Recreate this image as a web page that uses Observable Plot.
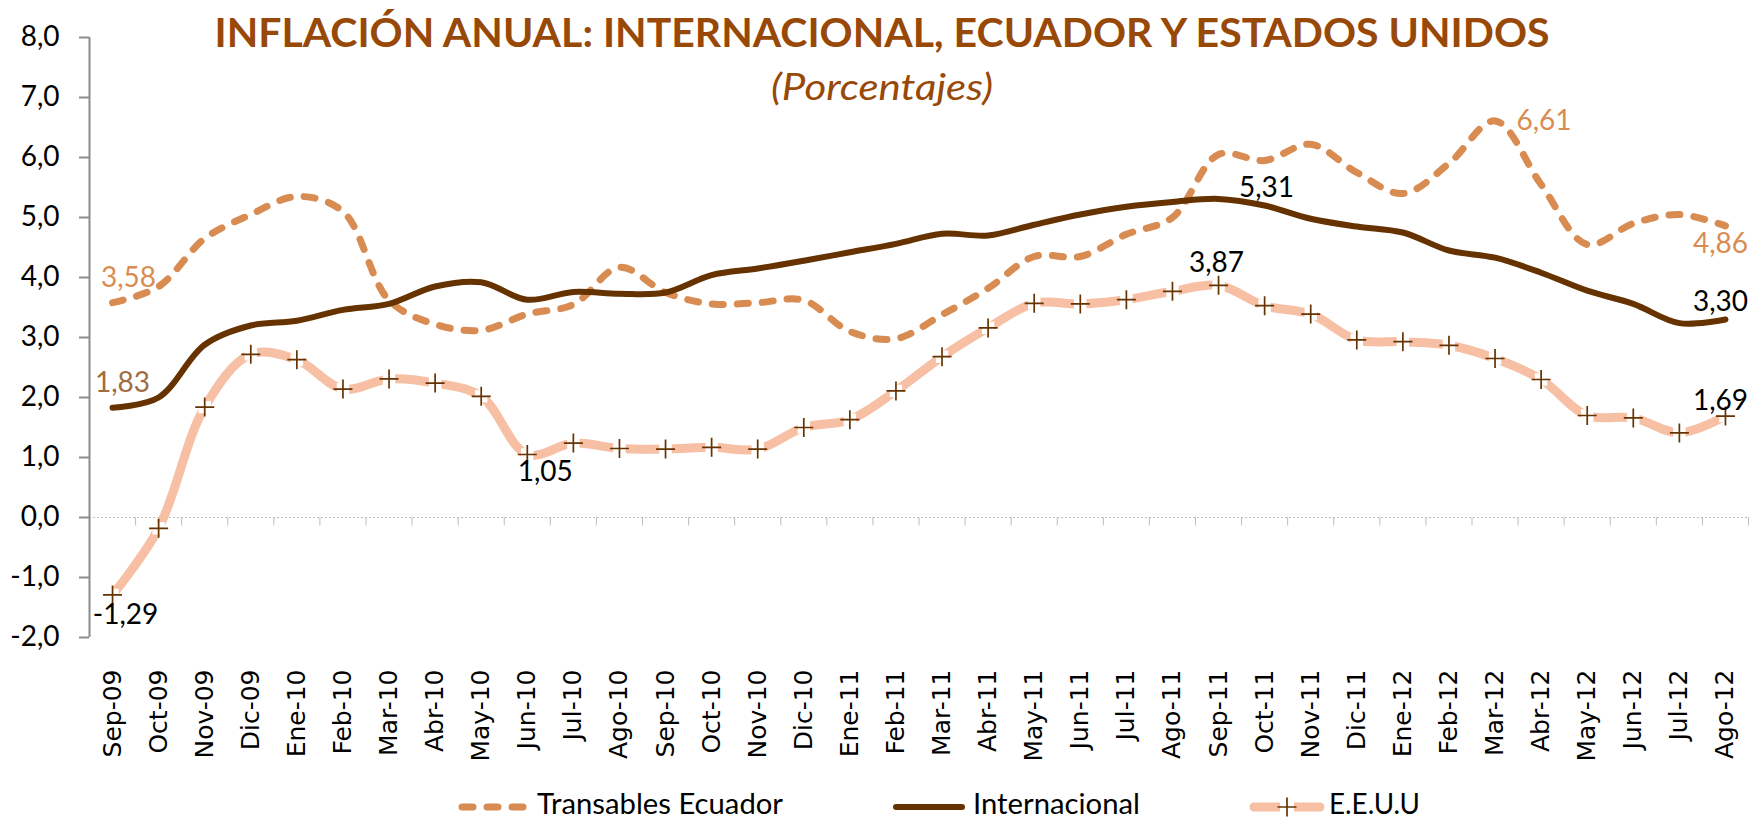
<!DOCTYPE html>
<html>
<head>
<meta charset="utf-8">
<script src="https://cdn.jsdelivr.net/npm/d3@7"></script>
<script src="https://cdn.jsdelivr.net/npm/@observablehq/plot@0.6"></script>
<style>
  html, body { margin: 0; padding: 0; background: white; }
  #chart svg { display: block; }
  g[aria-label="x-axis tick label"] text { font-family: "DejaVu Sans", Verdana, sans-serif; }
</style>
</head>
<body>
<div id="chart"></div>
<script>
const title = "INFLACIÓN ANUAL: INTERNACIONAL, ECUADOR Y ESTADOS UNIDOS";
const subtitle = "(Porcentajes)";

const categories = ["Sep-09","Oct-09","Nov-09","Dic-09","Ene-10","Feb-10","Mar-10","Abr-10","May-10","Jun-10","Jul-10","Ago-10","Sep-10","Oct-10","Nov-10","Dic-10","Ene-11","Feb-11","Mar-11","Abr-11","May-11","Jun-11","Jul-11","Ago-11","Sep-11","Oct-11","Nov-11","Dic-11","Ene-12","Feb-12","Mar-12","Abr-12","May-12","Jun-12","Jul-12","Ago-12"];

const transables = [3.58,3.85,4.65,5.05,5.35,5.10,3.62,3.22,3.12,3.39,3.55,4.17,3.75,3.56,3.58,3.62,3.10,2.98,3.38,3.82,4.35,4.35,4.72,5.00,6.05,5.95,6.22,5.75,5.40,5.90,6.61,5.55,4.55,4.90,5.05,4.86];

const internacional = [1.83,2.00,2.88,3.20,3.28,3.46,3.56,3.85,3.92,3.63,3.76,3.73,3.75,4.04,4.15,4.28,4.42,4.56,4.73,4.70,4.88,5.05,5.18,5.26,5.31,5.20,4.98,4.85,4.75,4.45,4.33,4.08,3.78,3.56,3.24,3.30];

const eeuu = [-1.29,-0.18,1.84,2.72,2.63,2.14,2.31,2.24,2.02,1.05,1.24,1.15,1.14,1.17,1.14,1.50,1.63,2.11,2.68,3.16,3.57,3.56,3.63,3.77,3.87,3.53,3.39,2.96,2.93,2.87,2.65,2.30,1.70,1.66,1.41,1.69];

const yTicks = [-2,-1,0,1,2,3,4,5,6,7,8];
const seriesNames = ["Transables Ecuador", "Internacional", "E.E.U.U"];

const C_TRANS = "#D98C52";
const C_INTL = "#663300";
const C_US = "#F7BFA4";
const C_TITLE = "#984807";

const idx = d3.range(categories.length);
const rows = vals => idx.map(i => ({i, v: vals[i]}));
const fmt = v => v.toFixed(2).replace(".", ",");

const plusSymbol = {
  draw(ctx, size) {
    const r = Math.sqrt(size / Math.PI);
    ctx.moveTo(-r, 0); ctx.lineTo(r, 0);
    ctx.moveTo(0, -r); ctx.lineTo(0, r);
  }
};

const label = (vals, i, color, dx, dy) =>
  Plot.text([i], {x: d => d, y: d => vals[d], text: d => fmt(vals[d]), fill: color, dx, dy,
    fontSize: 28, fontFamily: "Lato"});

const W = 1750, H = 822;
const plot = Plot.plot({
  width: W, height: H,
  marginTop: 37, marginBottom: 185, marginLeft: 89, marginRight: 2,
  x: {domain: [-0.5, categories.length - 0.5], axis: null},
  y: {domain: [-2, 8], axis: null},
  style: {background: "white", fontFamily: "Lato", color: "black"},
  marks: [
    Plot.ruleY([0], {stroke: "#bdbdbd", strokeWidth: 1, strokeDasharray: "2,2"}),
    Plot.ruleX(idx.map(i => i + 0.5), {y1: 0, y2: -0.14, stroke: "#bdbdbd", strokeWidth: 1}),
    Plot.ruleX([-0.5], {y1: -2, y2: 8, stroke: "#8c8c8c", strokeWidth: 2}),
    Plot.axisY({ticks: yTicks, label: null, tickSize: 10, tickPadding: 20, tickFormat: d => d.toFixed(1).replace(".", ","),
      fontSize: 28, fontFamily: "Lato", stroke: "#8c8c8c", strokeWidth: 2, fill: "black"}),
    Plot.axisX({ticks: idx, label: null, tickFormat: i => categories[i], tickRotate: -90, tickSize: 0, tickPadding: 32,
      fontSize: 25, fontFamily: "DejaVu Sans", fill: "black", anchor: "bottom"}),
    Plot.line(rows(transables), {x: "i", y: "v", curve: "catmull-rom", stroke: C_TRANS, strokeWidth: 7,
      strokeDasharray: "11,14", strokeLinecap: "round", strokeLinejoin: "round"}),
    Plot.line(rows(internacional), {x: "i", y: "v", curve: "catmull-rom", stroke: C_INTL, strokeWidth: 6,
      strokeLinecap: "round", strokeLinejoin: "round"}),
    Plot.line(rows(eeuu), {x: "i", y: "v", curve: "catmull-rom", stroke: C_US, strokeWidth: 9,
      strokeLinejoin: "round"}),
    Plot.dot(rows(eeuu), {x: "i", y: "v", symbol: "square", r: 7, fill: "white", stroke: "none"}),
    Plot.dot(rows(eeuu), {x: "i", y: "v", symbol: plusSymbol, r: 9.5, fill: "none", stroke: C_INTL, strokeWidth: 1.7}),
    label(transables, 0, C_TRANS, 16, -25),
    label(internacional, 0, "#A26C40", 10, -25),
    label(eeuu, 0, "black", 13, 20),
    label(eeuu, 9, "black", 18, 18),
    label(eeuu, 24, "black", -2, -22),
    label(internacional, 24, "black", 48, -11),
    label(transables, 30, C_TRANS, 49, 0),
    label(transables, 35, C_TRANS, -5, 18),
    label(internacional, 35, "black", -5, -17),
    label(eeuu, 35, "black", -5, -15)
  ]
});

const svg = d3.select(plot);
svg.append("text")
  .attr("x", 882).attr("y", 47).attr("text-anchor", "middle")
  .attr("font-family", "Lato").attr("font-weight", 700).attr("font-size", 40)
  .attr("fill", C_TITLE).attr("textLength", 1335).attr("lengthAdjust", "spacingAndGlyphs")
  .text(title);
svg.append("text")
  .attr("x", 882).attr("y", 100).attr("text-anchor", "middle")
  .attr("font-family", "Lato").attr("font-style", "italic").attr("font-size", 36)
  .attr("fill", C_TITLE).attr("textLength", 222).attr("lengthAdjust", "spacingAndGlyphs")
  .text(subtitle);

// legend
const lg = svg.append("g").attr("aria-label", "legend");
const ly = 807, lb = 814;
const legendItems = [
  {name: seriesNames[0], x0: 462, x1: 526, tx: 537, tl: 246},
  {name: seriesNames[1], x0: 896, x1: 962, tx: 973, tl: 167},
  {name: seriesNames[2], x0: 1254, x1: 1320, tx: 1329, tl: 91}
];
lg.append("line").attr("x1", legendItems[0].x0).attr("x2", legendItems[0].x1).attr("y1", ly).attr("y2", ly)
  .attr("stroke", C_TRANS).attr("stroke-width", 7).attr("stroke-linecap", "round").attr("stroke-dasharray", "11,14");
lg.append("line").attr("x1", legendItems[1].x0).attr("x2", legendItems[1].x1).attr("y1", ly).attr("y2", ly)
  .attr("stroke", C_INTL).attr("stroke-width", 6).attr("stroke-linecap", "round");
lg.append("line").attr("x1", legendItems[2].x0).attr("x2", legendItems[2].x1).attr("y1", ly).attr("y2", ly)
  .attr("stroke", C_US).attr("stroke-width", 9).attr("stroke-linecap", "round");
const cx = (legendItems[2].x0 + legendItems[2].x1) / 2;
lg.append("rect").attr("x", cx - 7).attr("y", ly - 7).attr("width", 14).attr("height", 14).attr("fill", "white");
lg.append("path").attr("d", `M${cx - 9.5},${ly}H${cx + 9.5}M${cx},${ly - 9.5}V${ly + 9.5}`)
  .attr("stroke", C_INTL).attr("stroke-width", 1.7).attr("fill", "none");
legendItems.forEach(it => {
  lg.append("text").attr("x", it.tx).attr("y", lb).attr("text-anchor", "start")
    .attr("font-family", "Lato").attr("font-size", 28)
    .attr("fill", "black").attr("textLength", it.tl).attr("lengthAdjust", "spacingAndGlyphs").text(it.name);
});

document.getElementById("chart").appendChild(plot);
</script>
</body>
</html>
